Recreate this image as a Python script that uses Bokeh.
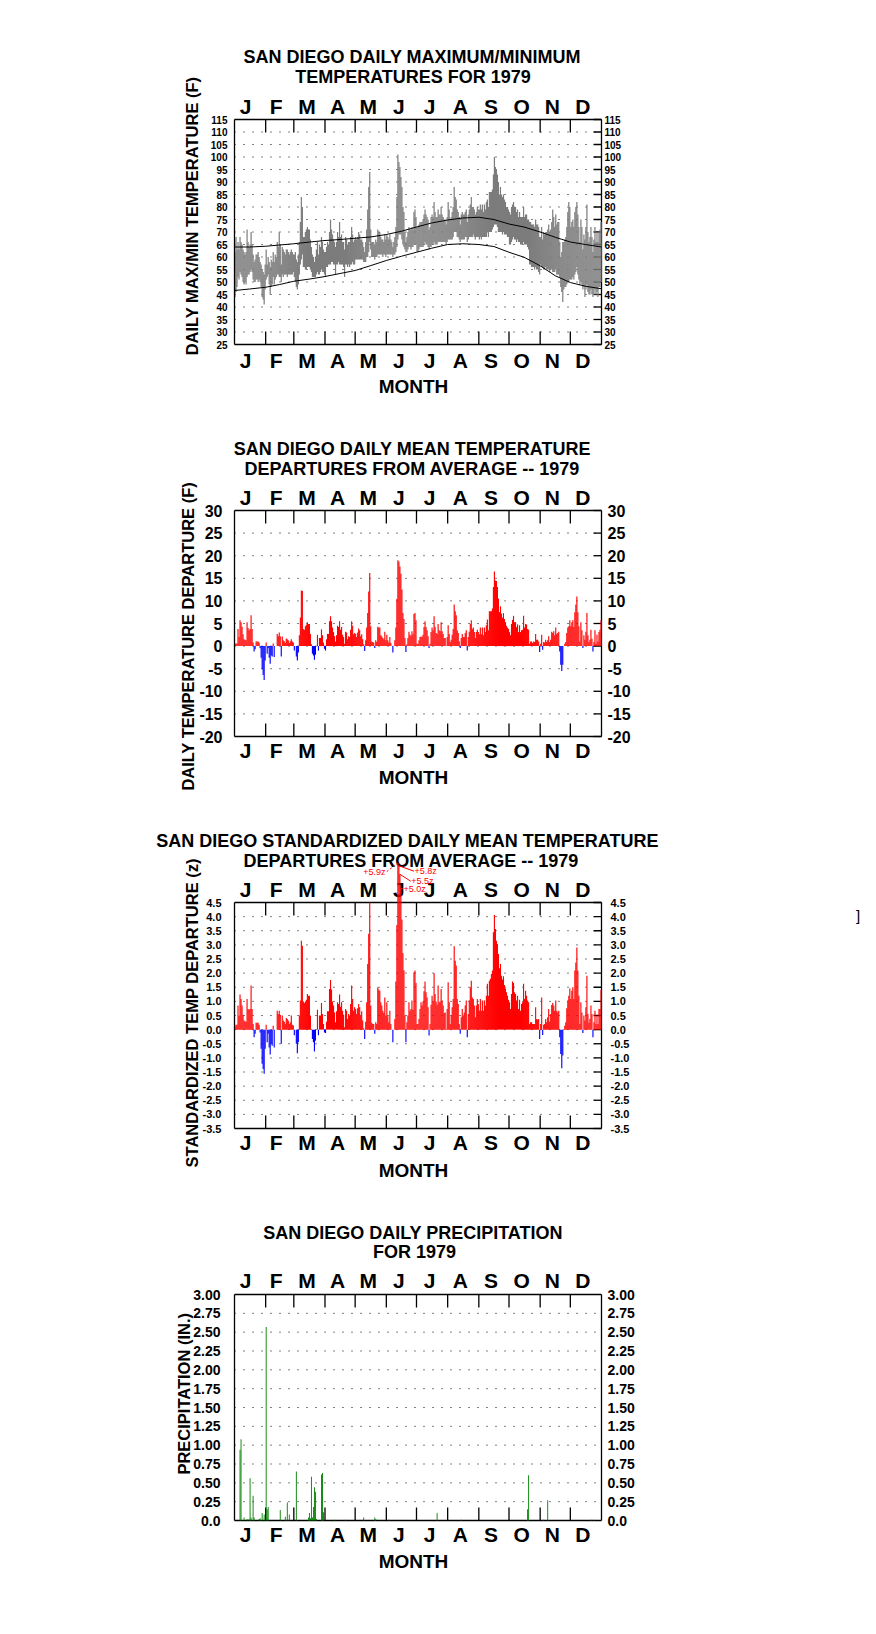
from math import pi
from bokeh.plotting import figure
from bokeh.models import (Range1d, LinearAxis, FixedTicker, ColumnDataSource, CustomJSTickFormatter)
from bokeh.layouts import column
from bokeh.embed import file_html
from bokeh.resources import INLINE
from bokeh.core.properties import value

# ---------------------------------------------------------------- data
month_letters = ["J", "F", "M", "A", "M", "J", "J", "A", "S", "O", "N", "D"]
month_lengths = [31, 28, 31, 30, 31, 30, 31, 31, 30, 31, 30, 31]
month_label_day = [11, 41.5, 72, 102.5, 133, 163.5, 194, 224.5, 255, 285.5, 316, 346.5]

# normal (average) daily max / min temperature, read at these days of the year
norm_days = [0, 15, 31, 45, 59, 75, 90, 105, 120, 135, 151, 166, 181, 196, 212, 227, 243, 258, 273, 288, 304, 319, 334, 349, 365]
norm_max = [64.0, 64.0, 64.3, 64.8, 65.3, 66.0, 66.6, 67.0, 67.5, 68.0, 69.0, 70.3, 72.0, 73.6, 74.8, 75.6, 75.9, 75.0, 73.2, 72.0, 70.0, 67.9, 66.0, 65.0, 64.0]
norm_min = [46.6, 47.2, 47.9, 49.0, 50.3, 51.2, 52.2, 53.4, 54.6, 56.5, 58.6, 60.3, 61.9, 63.5, 65.0, 65.3, 65.0, 64.2, 61.9, 59.9, 56.5, 52.5, 49.8, 48.3, 47.3]

# daily maximum temperature (F)
tmax_jan = [62, 68, 63, 66, 63, 68, 66, 65, 63, 62, 61, 62, 71, 66, 64, 65, 70, 65, 61, 58, 59, 61, 61, 62, 60, 58, 57, 55, 54, 53, 57]
tmax_feb = [63, 57, 60, 58, 56, 59, 58, 62, 58, 61, 60, 66, 64, 70, 65, 57, 64, 63, 62, 61, 63, 63, 62, 61, 62, 63, 62, 61]
tmax_mar = [61, 62, 59, 58, 61, 66, 74, 84, 80, 68, 68, 70, 71, 72, 71, 71, 67, 64, 61, 60, 58, 60, 63, 66, 61, 65, 64, 68, 66, 63, 62]
tmax_apr = [62, 64, 66, 65, 70, 75, 71, 69, 67, 66, 64, 66, 70, 68, 74, 68, 69, 66, 66, 63, 68, 67, 65, 66, 66, 68, 72, 69, 66, 67]
tmax_may = [68, 67, 68, 70, 69, 67, 67, 66, 64, 62, 66, 71, 79, 88, 94, 71, 66, 66, 66, 65, 67, 66, 71, 70, 70, 68, 67, 67, 66, 69, 67]
tmax_jun = [69, 68, 67, 69, 67, 66, 64, 66, 68, 72, 84, 101, 98, 96, 92, 88, 80, 78, 70, 66, 68, 70, 72, 71, 71, 72, 71, 78, 79, 76]
tmax_jul = [72, 72, 73, 74, 74, 74, 75, 77, 79, 77, 76, 75, 71, 72, 76, 77, 76, 82, 78, 76, 76, 79, 77, 77, 80, 77, 76, 75, 75, 73, 76]
tmax_aug = [82, 79, 75, 76, 78, 80, 88, 84, 83, 79, 78, 76, 73, 77, 78, 77, 77, 78, 79, 74, 77, 79, 81, 84, 80, 80, 79, 77, 78, 80, 79]
tmax_sep = [79, 81, 79, 81, 78, 81, 79, 82, 83, 80, 86, 86, 86, 87, 93, 100, 96, 95, 93, 90, 85, 88, 85, 84, 85, 83, 82, 80, 80, 79]
tmax_oct = [78, 77, 80, 81, 82, 80, 80, 78, 79, 76, 78, 76, 76, 76, 80, 76, 77, 77, 75, 75, 74, 74, 73, 73, 73, 72, 75, 73, 73, 72, 68]
tmax_nov = [68, 72, 67, 70, 69, 70, 70, 71, 73, 70, 71, 74, 79, 76, 72, 77, 73, 74, 74, 66, 60, 62, 66, 66, 67, 68, 72, 78, 82, 80]
tmax_dec = [72, 74, 75, 72, 78, 80, 82, 77, 72, 66, 75, 72, 63, 69, 67, 72, 81, 70, 66, 68, 72, 68, 62, 67, 72, 66, 70, 66, 70, 71, 74]

# daily minimum temperature (F)
tmin_jan = [44, 46, 48, 52, 51, 54, 53, 52, 50, 49, 50, 49, 52, 53, 53, 54, 55, 54, 51, 50, 50, 51, 51, 50, 51, 50, 48, 44, 43, 41, 47]
tmin_feb = [51, 52, 53, 49, 45, 48, 49, 52, 49, 51, 52, 53, 53, 52, 52, 50, 53, 52, 53, 53, 53, 52, 53, 53, 53, 53, 53, 54]
tmin_mar = [52, 50, 48, 47, 49, 53, 57, 59, 61, 56, 56, 55, 55, 56, 56, 56, 55, 54, 52, 52, 52, 52, 53, 54, 53, 53, 54, 55, 54, 54, 53]
tmin_apr = [52, 56, 56, 57, 57, 57, 58, 58, 57, 57, 53, 57, 57, 58, 57, 57, 57, 57, 56, 52, 57, 57, 56, 57, 56, 57, 57, 58, 57, 57]
tmin_may = [59, 59, 59, 59, 59, 59, 59, 59, 58, 58, 58, 60, 60, 62, 66, 63, 60, 60, 60, 59, 60, 60, 61, 61, 61, 61, 61, 60, 61, 61, 60]
tmin_jun = [61, 61, 61, 61, 61, 61, 60, 61, 61, 62, 64, 67, 69, 69, 69, 67, 65, 64, 63, 62, 62, 63, 64, 64, 63, 64, 64, 65, 65, 65]
tmin_jul = [62, 62, 63, 64, 64, 64, 64, 65, 66, 65, 65, 64, 63, 64, 64, 65, 65, 66, 65, 65, 65, 66, 66, 66, 66, 66, 66, 66, 66, 65, 66]
tmin_aug = [67, 67, 67, 67, 67, 68, 70, 70, 70, 68, 68, 67, 66, 67, 67, 67, 67, 68, 68, 66, 67, 68, 68, 68, 68, 69, 68, 67, 68, 68, 68]
tmin_sep = [67, 68, 67, 68, 68, 68, 68, 68, 70, 68, 70, 70, 70, 71, 72, 73, 73, 73, 72, 70, 70, 70, 70, 69, 70, 69, 69, 69, 68, 68]
tmin_oct = [65, 65, 66, 67, 68, 67, 67, 66, 67, 66, 66, 65, 65, 65, 66, 65, 65, 65, 64, 63, 57, 57, 56, 56, 56, 55, 56, 55, 55, 54, 53]
tmin_nov = [57, 56, 56, 55, 55, 56, 55, 55, 55, 54, 55, 55, 54, 54, 54, 55, 53, 53, 53, 52, 48, 46, 42, 47, 48, 48, 49, 50, 50, 51]
tmin_dec = [51, 51, 52, 51, 53, 54, 56, 53, 51, 49, 50, 49, 47, 48, 44, 47, 49, 46, 45, 45, 47, 45, 44, 45, 47, 45, 46, 44, 48, 48, 50]

# daily mean temperature departure from average (F)
dep_jan = [0.5, 0.6, 0.6, 3.8, 2.0, 5.7, 5.3, 4.3, 2.6, 1.5, 1.4, 1.3, 5.3, 4.0, 3.5, 3.8, 6.8, 3.8, 0.8, -1.2, -0.7, 1.0, 1.0, 1.0, 0.8, -0.5, -2.6, -5.1, -6.4, -7.5, -3.2]
dep_feb = [0.8, -1.7, -0.4, -2.6, -3.9, -2.1, -2.3, 0.6, -2.4, 0.0, 0.0, 2.7, 2.2, 3.0, 2.2, -2.3, 2.1, 1.3, 1.1, 0.7, 1.7, 1.5, 1.3, 0.7, 1.1, 1.5, 1.0, 0.8]
dep_mar = [-1.0, 0.0, -2.3, -3.2, -1.4, 2.4, 6.3, 12.3, 12.2, 3.8, 3.6, 4.4, 4.7, 5.3, 4.9, 4.9, 2.7, 0.4, -1.7, -2.1, -3.0, -1.9, 0.0, 2.5, -1.0, 1.8, 1.8, 3.7, 2.4, 0.8, -0.6]
dep_apr = [-1.0, 1.5, 2.7, 2.7, 5.5, 6.6, 5.5, 4.1, 3.1, 2.2, 1.0, 2.4, 4.5, 4.2, 5.5, 3.6, 4.2, 2.5, 2.0, 0.5, 3.2, 3.0, 1.5, 2.2, 2.0, 3.6, 5.5, 4.5, 2.6, 2.9]
dep_may = [2.7, 2.0, 3.0, 3.9, 3.5, 2.2, 2.6, 1.5, 0.4, -1.1, 1.3, 4.1, 7.3, 12.1, 16.2, 4.4, 1.0, 0.9, 0.8, -0.4, 1.3, 0.9, 4.3, 4.1, 4.1, 2.4, 2.2, 1.8, 1.5, 3.2, 1.3]
dep_jun = [2.5, 1.3, 0.8, 2.0, 0.7, 0.0, -1.4, 0.0, 1.3, 4.1, 10.5, 19.0, 18.7, 17.6, 16.0, 12.5, 7.3, 6.0, 1.8, -1.3, 0.4, 1.8, 3.2, 2.5, 2.3, 3.3, 2.6, 7.1, 7.3, 5.7]
dep_jul = [0.5, 0.5, 1.3, 2.0, 2.1, 2.0, 2.5, 4.2, 5.5, 4.2, 3.5, 2.2, -0.4, 0.5, 3.1, 4.1, 3.5, 6.6, 4.3, 2.9, 2.7, 4.9, 3.5, 3.3, 5.3, 3.3, 2.7, 1.8, 1.8, 0.0, 2.0]
dep_aug = [4.6, 2.7, 0.9, 1.4, 2.5, 3.8, 9.2, 7.7, 6.8, 3.5, 2.9, 1.1, -0.4, 1.8, 2.7, 2.0, 2.0, 2.9, 3.5, -1.0, 2.0, 3.2, 4.9, 5.7, 3.8, 4.1, 3.1, 1.8, 3.1, 3.6, 3.1]
dep_sep = [2.6, 4.1, 2.6, 4.1, 2.4, 4.1, 3.1, 4.6, 5.9, 3.5, 7.7, 7.7, 7.7, 8.3, 13.1, 16.5, 14.5, 14.4, 13.1, 10.5, 7.5, 8.8, 7.2, 6.3, 7.3, 6.0, 5.3, 4.5, 4.1, 3.8]
dep_oct = [3.1, 2.4, 4.9, 5.8, 6.7, 5.3, 5.3, 4.2, 4.8, 3.1, 4.6, 3.1, 3.5, 3.6, 6.7, 4.1, 4.9, 4.8, 3.8, 3.6, 0.5, 1.0, 1.0, 0.7, 1.0, 0.9, 2.7, 1.4, 1.4, 1.0, -1.3]
dep_nov = [0.5, 2.5, -0.8, 0.9, 0.8, 1.4, 0.9, 1.3, 2.2, 0.9, 1.4, 3.2, 2.9, 3.3, 2.4, 4.1, 2.7, 2.9, 3.2, -1.2, -4.1, -5.5, -4.1, 0.0, 0.5, 0.9, 2.9, 4.1, 4.4, 5.7]
dep_dec = [4.4, 5.3, 5.7, 4.2, 7.5, 9.2, 11.0, 7.5, 4.4, 1.0, 5.3, 3.5, -0.4, 2.4, 1.4, 3.2, 7.3, 2.4, 0.9, 1.4, 3.6, 1.6, -1.2, 0.9, 3.5, 0.5, 2.5, 1.0, 3.1, 3.6, 5.7]

# standardized daily mean temperature departure (z)
z_jan = [0.1, 0.17, 0.17, 0.85, 0.5, 1.24, 1.08, 0.85, 0.53, 0.32, 0.3, 0.28, 1.08, 0.73, 0.7, 0.73, 1.56, 0.73, 0.2, -0.27, -0.15, 0.24, 0.24, 0.24, 0.17, -0.1, -0.68, -1.21, -1.39, -1.56, -0.68]
z_feb = [0.17, -0.45, -0.15, -0.63, -0.88, -0.5, -0.57, 0.14, -0.63, 0.0, 0.0, 0.67, 0.55, 0.67, 0.52, -0.5, 0.5, 0.32, 0.28, 0.2, 0.41, 0.38, 0.32, 0.2, 0.26, 0.5, 0.17, 0.15]
z_mar = [-0.2, 0.0, -0.5, -0.84, -0.45, 0.5, 1.03, 3.15, 2.97, 1.0, 0.94, 1.0, 1.06, 1.26, 1.2, 1.2, 0.5, 0.02, -0.33, -0.45, -0.77, -0.39, 0.0, 0.7, -0.2, 0.5, 0.5, 0.94, 0.55, 0.2, -0.1]
z_apr = [-0.12, 0.28, 0.65, 0.65, 1.44, 1.76, 1.42, 1.0, 0.85, 0.61, 0.26, 0.65, 0.97, 0.91, 1.24, 0.81, 0.97, 0.67, 0.53, 0.08, 0.73, 0.67, 0.38, 0.55, 0.5, 0.91, 1.56, 1.08, 0.67, 0.79]
z_may = [0.73, 0.55, 0.76, 0.91, 0.79, 0.5, 0.65, 0.32, 0.05, -0.33, 0.28, 0.97, 2.32, 3.39, 4.5, 0.85, 0.24, 0.2, 0.2, -0.15, 0.26, 0.2, 1.5, 1.42, 1.38, 0.97, 0.85, 0.67, 0.59, 1.14, 0.5]
z_jun = [0.97, 0.47, 0.26, 0.67, 0.2, 0.0, -0.45, 0.0, 0.38, 1.7, 3.7, 5.9, 5.8, 5.5, 5.0, 3.9, 2.7, 2.1, 0.5, -0.45, 0.26, 0.5, 0.97, 0.67, 0.73, 1.03, 0.7, 2.03, 2.09, 1.65]
z_jul = [0.2, 0.2, 0.38, 0.73, 0.97, 0.85, 1.0, 1.36, 1.7, 1.32, 1.14, 0.79, -0.21, 0.2, 0.88, 1.2, 1.0, 2.0, 1.26, 1.0, 0.88, 1.56, 0.97, 1.0, 1.44, 1.03, 0.85, 0.59, 0.61, 0.02, 0.73]
z_aug = [1.68, 0.97, 0.2, 0.5, 0.79, 1.08, 2.95, 2.44, 2.27, 1.08, 0.91, 0.2, -0.15, 0.44, 0.73, 0.5, 0.61, 0.85, 1.03, -0.27, 0.55, 1.03, 1.5, 1.73, 1.14, 1.08, 0.85, 0.44, 0.85, 1.08, 0.91]
z_sep = [0.67, 1.08, 0.67, 1.03, 0.67, 1.03, 0.85, 1.2, 1.62, 1.2, 1.73, 1.8, 1.97, 2.09, 3.45, 4.06, 3.56, 3.15, 3.03, 2.68, 2.17, 2.32, 1.91, 1.77, 1.89, 1.58, 1.46, 1.32, 1.2, 1.06]
z_oct = [0.97, 0.73, 1.26, 1.7, 1.65, 1.32, 1.26, 1.03, 1.2, 0.73, 1.06, 0.67, 0.91, 0.97, 1.62, 1.08, 1.38, 1.2, 1.03, 0.97, 0.2, 0.26, 0.26, 0.2, 0.2, 0.2, 0.79, 0.38, 0.35, 0.38, -0.33]
z_nov = [0.2, 1.14, -0.19, 0.17, 0.2, 0.38, 0.26, 0.44, 0.73, 0.28, 0.55, 0.87, 0.94, 0.85, 0.67, 1.03, 0.67, 0.61, 0.67, -0.27, -0.86, -1.37, -0.92, 0.02, 0.14, 0.26, 0.76, 1.03, 1.2, 1.46]
z_dec = [1.08, 1.38, 1.5, 1.08, 2.09, 2.38, 2.91, 2.09, 1.2, 0.2, 0.97, 0.61, -0.12, 0.5, 0.32, 0.79, 1.91, 0.55, 0.24, 0.38, 0.85, 0.55, -0.27, 0.26, 0.67, 0.2, 0.5, 0.2, 0.73, 0.73, 1.4]

# daily precipitation (inches): day of year (0 = Jan 1) and amount
precip_day = [5, 6, 9, 12, 14, 15, 16, 18, 19, 24, 25, 27, 29, 31, 32, 33, 45, 50, 52, 54,
              61, 73, 74, 75, 76, 77, 78, 79, 80, 81, 86, 87, 88, 99, 110, 128, 139, 140, 153, 201,
              225, 291, 292, 307, 311, 354, 357]
precip_in = [0.94, 1.08, 0.04, 0.02, 0.02, 0.56, 0.04, 0.33, 0.04, 0.02, 0.03, 0.10, 0.08, 2.57, 0.15, 0.18, 0.14, 0.05, 0.24, 0.08,
             0.65, 0.04, 0.10, 0.03, 0.58, 0.04, 0.18, 0.44, 0.38, 0.02, 0.61, 0.63, 0.11, 0.01, 0.01, 0.04, 0.04, 0.02, 0.01, 0.10,
             0.01, 0.15, 0.60, 0.01, 0.27, 0.01, 0.01]


def concat(*parts):
    out = []
    for part in parts:
        out.extend(part)
    return out


tmax = concat(tmax_jan, tmax_feb, tmax_mar, tmax_apr, tmax_may, tmax_jun, tmax_jul, tmax_aug, tmax_sep, tmax_oct, tmax_nov, tmax_dec)
tmin = concat(tmin_jan, tmin_feb, tmin_mar, tmin_apr, tmin_may, tmin_jun, tmin_jul, tmin_aug, tmin_sep, tmin_oct, tmin_nov, tmin_dec)
dep = concat(dep_jan, dep_feb, dep_mar, dep_apr, dep_may, dep_jun, dep_jul, dep_aug, dep_sep, dep_oct, dep_nov, dep_dec)
zdep = concat(z_jan, z_feb, z_mar, z_apr, z_may, z_jun, z_jul, z_aug, z_sep, z_oct, z_nov, z_dec)

month_start = [sum(month_lengths[:i]) for i in range(12)]
NDAYS = sum(month_lengths)
days_mid = [d + 0.5 for d in range(NDAYS)]

# ---------------------------------------------------------------- layout helpers
FONT = "Liberation Sans"
FIG_W = 870
FRAME_L, FRAME_R = 140, 866        # page x of the drawing frame (same for every panel)
BOX_L, BOX_W = 234.0, 367.0        # page x / width of the plotted box
DAYS_PER_PX = NDAYS / BOX_W


def day_at(px):
    return (px - BOX_L) * DAYS_PER_PX


def txt(p, x, y, text, size, align="center", bold=True, color="black", angle=0.0):
    # y is the vertical centre of the capitals
    p.text(x=x, y=y, text=text, angle=angle, text_font=value(FONT), text_font_size=size,
           text_font_style="bold" if bold else "normal", text_align=align,
           text_baseline="middle", text_color=color)


def make_panel(fig_top, fig_h, box_top, box_bot, ylo, yhi, ticks, fmt_code, fmt_py, tick_font,
               lstand, rstand, right_ticks, titles, ylabel, ylab_xy, offs):
    s = (yhi - ylo) / (box_bot - box_top)          # data units per pixel

    def yat(py):
        return ylo + (box_bot - py) * s

    p = figure(width=FIG_W, height=fig_h,
               x_range=Range1d(day_at(FRAME_L), day_at(FRAME_R)),
               y_range=Range1d(yat(fig_top + fig_h), yat(fig_top)),
               x_axis_location=None, y_axis_location=None,
               output_backend="svg", toolbar_location=None,
               min_border_left=FRAME_L, min_border_right=FIG_W - FRAME_R,
               min_border_top=0, min_border_bottom=0)
    p.xgrid.visible = False
    p.ygrid.visible = False
    p.outline_line_color = None
    p.background_fill_color = "white"
    p.border_fill_color = "white"

    # left value axis on the box edge (also draws the left side of the box)
    ax = LinearAxis(fixed_location=0, bounds=(ylo, yhi), ticker=FixedTicker(ticks=ticks),
                    formatter=CustomJSTickFormatter(code=fmt_code),
                    axis_line_color="black", axis_line_width=1.3,
                    minor_tick_line_color=None, major_tick_in=0, major_tick_out=0,
                    major_tick_line_color=None,
                    major_label_standoff=lstand, major_label_text_font=FONT,
                    major_label_text_font_size=tick_font, major_label_text_font_style="bold",
                    major_label_text_color="black")
    p.add_layout(ax, "left")

    # right side of the box: edge, inward ticks and labels drawn in data space
    p.segment(x0=[NDAYS], y0=[ylo], x1=[NDAYS], y1=[yhi], line_color="black", line_width=1.3)
    if right_ticks:
        p.segment(x0=[NDAYS] * len(ticks), y0=ticks, x1=[NDAYS - 8 * DAYS_PER_PX] * len(ticks),
                  y1=ticks, line_color="black", line_width=1.3)
    p.text(x=[day_at(BOX_L + BOX_W + rstand)] * len(ticks), y=ticks,
           text=[fmt_py(t) for t in ticks],
           text_font=value(FONT), text_font_size=tick_font, text_font_style="bold",
           text_align="left", text_baseline="middle", text_color="black")

    # top and bottom edges of the box
    p.segment(x0=[0, 0], y0=[ylo, yhi], x1=[NDAYS, NDAYS], y1=[ylo, yhi],
              line_color="black", line_width=1.3)
    # dotted horizontal grid at interior ticks
    inner = [t for t in ticks if ylo < t < yhi]
    p.segment(x0=[0] * len(inner), y0=inner, x1=[NDAYS] * len(inner), y1=inner,
              line_color="black", line_width=1, line_dash="1 8")
    # month boundary ticks (inside, from top and bottom edges)
    bnd = month_start[1:]
    n = len(bnd)
    p.segment(x0=bnd, y0=[yhi] * n, x1=bnd, y1=[yhi - 13 * s] * n, line_color="black", line_width=1.3)
    p.segment(x0=bnd, y0=[ylo] * n, x1=bnd, y1=[ylo + 13 * s] * n, line_color="black", line_width=1.3)
    # month letters above and below, x-axis title
    top_off, bot_off, month_off, t1_off, t2_off = offs
    txt(p, month_label_day, [yat(box_top - top_off)] * 12, month_letters, "21px")
    txt(p, month_label_day, [yat(box_bot + bot_off)] * 12, month_letters, "21px")
    txt(p, [day_at(413)], [yat(box_bot + month_off)], ["MONTH"], "19px")
    # title
    (t1, c1), (t2, c2) = titles
    txt(p, [day_at(c1)], [yat(box_top - t1_off)], [t1], "18px")
    txt(p, [day_at(c2)], [yat(box_top - t2_off)], [t2], "18px")
    # y-axis title
    txt(p, [day_at(ylab_xy[0])], [yat(ylab_xy[1])], [ylabel], "16.5px", angle=pi / 2)
    return p, yat


def fmt0(t):
    return "%.0f" % t


def fmt1(t):
    return "%.1f" % t


def fmt_precip(t):
    return "0.0" if t == 0 else "%.2f" % t


# ---------------------------------------------------------------- panel 1: max / min
p1, y1 = make_panel(0, 400, 119, 344, 25, 115, list(range(25, 116, 5)), "return tick.toFixed(0);", fmt0, "10px",
                    7, 3, True,
                    [("SAN DIEGO DAILY MAXIMUM/MINIMUM", 411.7), ("TEMPERATURES FOR 1979", 412.5)],
                    "DAILY MAX/MIN TEMPERATURE (F)", (191.7, 215.5),
                    (13.5, 16.0, 42.3, 62.2, 42.2))
p1.vbar(x="x", bottom="lo", top="hi", width=1.2, fill_color="#7c7c7c", line_color=None,
        source=ColumnDataSource(dict(x=days_mid, lo=tmin, hi=tmax)))
p1.line(norm_days, norm_max, line_color="black", line_width=1)
p1.line(norm_days, norm_min, line_color="black", line_width=1)

# ---------------------------------------------------------------- panel 2: departures
p2, y2 = make_panel(400, 392, 510, 736, -20, 30, list(range(-20, 31, 5)), "return tick.toFixed(0);", fmt0, "16px",
                    12, 6, True,
                    [("SAN DIEGO DAILY MEAN TEMPERATURE", 411.7), ("DEPARTURES FROM AVERAGE -- 1979", 411.7)],
                    "DAILY TEMPERATURE DEPARTURE (F)", (187.3, 635.8),
                    (13.4, 14.4, 41.4, 61.3, 41.3))
p2.vbar(x="x", top="v", bottom=0, width=1.12, fill_color="c", line_color=None,
        source=ColumnDataSource(dict(x=days_mid, v=dep,
                                     c=["#ff0000" if v >= 0 else "#0000ff" for v in dep])))

# ---------------------------------------------------------------- panel 3: standardized
zticks = [x / 2 for x in range(-7, 10)]
p3, y3 = make_panel(792, 392, 902, 1128, -3.5, 4.5, zticks, "return tick.toFixed(1);", fmt1, "11px",
                    13, 9, True,
                    [("SAN DIEGO STANDARDIZED DAILY MEAN TEMPERATURE", 407), ("DEPARTURES FROM AVERAGE -- 1979", 410.8)],
                    "STANDARDIZED TEMP DEPARTURE (z)", (191.3, 1012.3),
                    (13.3, 13.8, 41.5, 61.2, 41.2))
p3.vbar(x="x", top="v", bottom=0, width=1.12, fill_color="c", line_color=None,
        source=ColumnDataSource(dict(x=days_mid, v=zdep,
                                     c=["#ff0000" if v >= 0 else "#0000ff" for v in zdep])))
# values beyond the top of the box are labelled
over = [(i, v) for i, v in enumerate(zdep) if v > 4.5]
zlabel_layout = [(-12.4, 871.7, "right", "2 2"), (16.6, 870.7, "left", "solid"),
                 (13.3, 880.7, "left", "solid"), (5.6, 888.3, "left", "solid")]
if over:
    spike_px = BOX_L + (over[0][0] + 0.5) / DAYS_PER_PX
    for (i, v), (dx, py, align, dash) in zip(over, zlabel_layout):
        tx = spike_px + dx
        end_px = tx + 0.5 if align == "right" else tx - 0.5
        p3.segment(x0=[i + 0.5], y0=[v], x1=[day_at(end_px)], y1=[y3(py)],
                   line_color="red", line_width=1, line_dash=dash)
        txt(p3, [day_at(tx)], [y3(py)], ["+%.1fz" % v], "9px", align=align, bold=False, color="red")
# stray bracket mark at the right edge of the page
txt(p3, [day_at(855.5)], [y3(915)], ["]"], "15px", align="left", bold=False)

# ---------------------------------------------------------------- panel 4: precipitation
pticks = [x / 4 for x in range(0, 13)]
p4, y4 = make_panel(1184, 392, 1294, 1520, 0, 3, pticks, "return tick == 0 ? '0.0' : tick.toFixed(2);", fmt_precip, "14px",
                    14, 6, False,
                    [("SAN DIEGO DAILY PRECIPITATION", 412.5), ("FOR 1979", 414)],
                    "PRECIPITATION (IN.)", (183.3, 1393.3),
                    (13.7, 14.2, 41.2, 61.8, 42.7))
p4.vbar(x=[d + 0.5 for d in precip_day], top=precip_in, bottom=0, width=0.9,
        fill_color="#008000", line_color=None)

layout = column(p1, p2, p3, p4, spacing=0)
open("out.html", "w").write(file_html(layout, INLINE))
